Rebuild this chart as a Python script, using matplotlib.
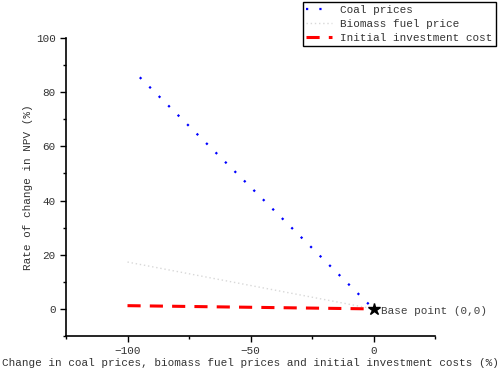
import numpy as np
import matplotlib
matplotlib.use('Agg')
import matplotlib.pyplot as plt
from matplotlib.ticker import MultipleLocator

# values
coal_x = [-95, 0]
coal_y = [85.5, 0]
biomass_x = [-100, 0]
biomass_y = [17.3, 0]
invest_x = [-100, 0]
invest_y = [1.2, 0]
labels = ['Coal prices', 'Biomass fuel price', 'Initial investment cost']

plt.rcParams['font.family'] = ['Liberation Mono', 'DejaVu Sans Mono']
plt.rcParams['font.size'] = 7.9

fig = plt.figure(figsize=(4.99, 3.74), dpi=100)
ax = fig.add_axes([66/499, 1 - 336/374, (435-66)/499, (336-38)/374])

ax.plot(coal_x, coal_y, color='blue', lw=1.6, linestyle=(0, (1, 5)), label=labels[0])
ax.plot(biomass_x, biomass_y, color='#d8d8d8', lw=1, linestyle=(0, (1, 2)), label=labels[1])
ax.plot(invest_x, invest_y, color='red', lw=2.2, linestyle=(0, (4.3, 3)), label=labels[2])
ax.plot(0, 0, marker='*', color='black', markersize=9, linestyle='none')
ax.text(3, -0.8, 'Base point (0,0)', va='center', ha='left', color='#404040')

ax.set_xlim(-125, 25)
ax.set_ylim(-10, 100)
ax.xaxis.set_major_locator(MultipleLocator(50))
ax.xaxis.set_minor_locator(MultipleLocator(25))
ax.yaxis.set_major_locator(MultipleLocator(20))
ax.yaxis.set_minor_locator(MultipleLocator(10))
ax.tick_params(which='major', direction='out', length=4, width=1, labelcolor='#333333')
ax.tick_params(which='minor', direction='out', length=2.5, width=1)
ax.spines['top'].set_visible(False)
ax.spines['right'].set_visible(False)
ax.spines['left'].set_linewidth(1.2)
ax.spines['bottom'].set_linewidth(1.2)
ax.set_xticks([-100, -50, 0])
ax.set_xticklabels(['\u2212100', '\u221250', '0'])

ax.set_xlabel('Change in coal prices, biomass fuel prices and initial investment costs (%)',
              labelpad=1, color='#333333')
ax.set_ylabel('Rate of change in NPV (%)', labelpad=2, color='#333333')

leg = ax.legend(loc='upper right', bbox_to_anchor=(496/499, 1 - 2/374),
                bbox_transform=fig.transFigure, fancybox=False, edgecolor='black',
                framealpha=1, handlelength=2.3, handletextpad=0.8, borderpad=0.3,
                labelspacing=0.35, borderaxespad=0)
leg.get_frame().set_linewidth(1)
for t in leg.get_texts():
    t.set_color('#333333')

fig.savefig('out.png', dpi=100)
